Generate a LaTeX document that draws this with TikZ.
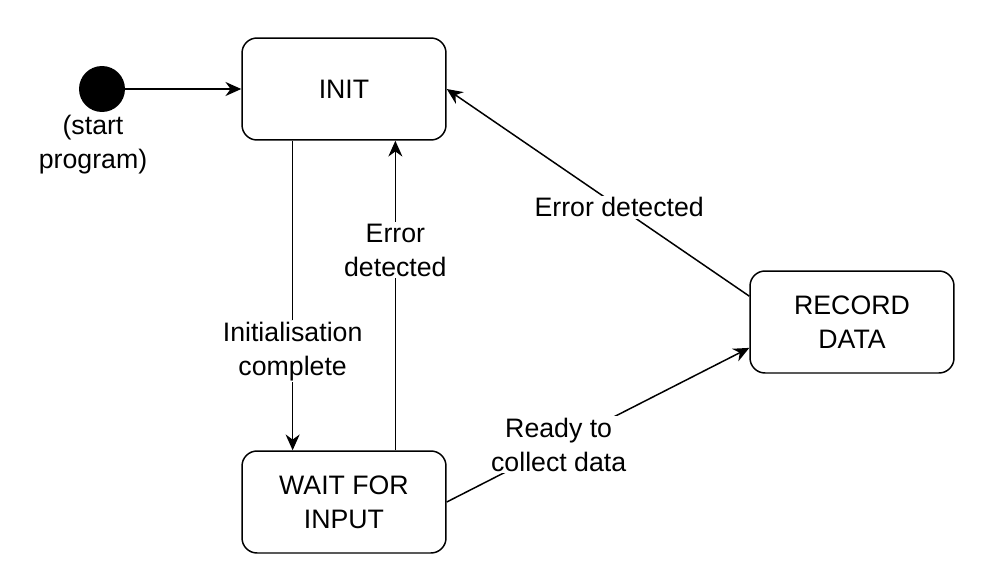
\documentclass[tikz,border=0pt]{standalone}
\usepackage{fontspec}
\setmainfont{Liberation Sans}
\usetikzlibrary{shapes,arrows.meta,positioning,calc}

\tikzset{
    state/.style={rectangle, draw, rounded corners=0.3cm, line width=0.85pt, minimum width=4.08cm, minimum height=2.04cm, align=center},
    trans/.style={-{Stealth[length=9pt,width=8pt]}, line width=0.85pt},
    lbl/.style={fill=white, align=center, inner sep=1pt}
}

\begin{document}
\begin{tikzpicture}[x=0.02cm, y=-0.02cm, font=\fontsize{15.2}{19.3}\selectfont]
    \useasboundingbox (0,0) rectangle (1000,585);

    \node (start) [circle, fill=black, minimum size=0.92cm, inner sep=0pt] at (102,89) {};
    \node (startlbl) [align=center] at (93,145) {(start\\program)};

    \node (init) [state] at (344,89) {INIT};
    \node (wait) [state] at (344,502) {WAIT FOR\\INPUT};
    \node (record) [state] at (852,322) {RECORD\\DATA};

    \draw [trans] (start) -- (init.west);
    \draw [trans] ($(init.south west)!0.25!(init.south east)$) -- node[lbl, pos=0.68] {Initialisation\\complete} ($(wait.north west)!0.25!(wait.north east)$);
    \draw [trans] ($(wait.north west)!0.75!(wait.north east)$) -- node[lbl, pos=0.647] {Error\\detected} ($(init.south west)!0.75!(init.south east)$);
    \draw [trans] (wait.east) -- node[lbl, pos=0.37] {Ready to\\collect data} ($(record.north west)!0.75!(record.south west)$);
    \draw [trans] ($(record.north west)!0.25!(record.south west)$) -- node[lbl, pos=0.43] {Error detected} (init.east);
\end{tikzpicture}
\end{document}
